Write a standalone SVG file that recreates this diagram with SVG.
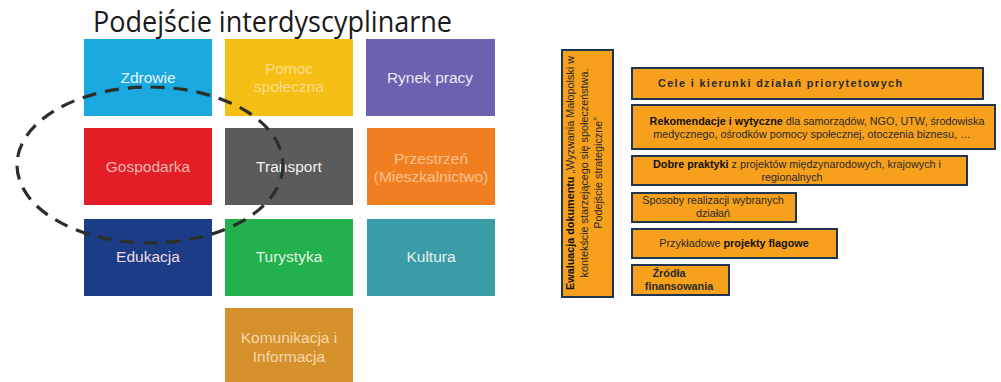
<svg xmlns="http://www.w3.org/2000/svg" width="1001" height="382" viewBox="0 0 1001 382">
<style>
.tile text{font-family:"Liberation Sans",Arial,sans-serif;font-size:15.5px;text-anchor:middle}
.ob rect{fill:#f6a01b;stroke:#1f3550;stroke-width:2}
.ob text{font-family:"Liberation Sans",Arial,sans-serif;font-size:10.8px;fill:#2a2a2a;text-anchor:middle}
.b{font-weight:bold;fill:#111}
</style>
<rect width="1001" height="382" fill="#ffffff"/>
<text x="93" y="32" font-family="Open Sans, Liberation Sans, sans-serif" font-size="29" fill="#1a1a1a" textLength="359" lengthAdjust="spacingAndGlyphs">Podejście interdyscyplinarne</text>

<g id="zdrowie" class="tile"><rect x="84" y="39" width="128" height="77" fill="#1ba8df"/><text x="148" y="83" fill="#e6f3fb">Zdrowie</text></g>
<g id="pomoc" class="tile"><rect x="225" y="39" width="128" height="77" fill="#f6bf16"/><text x="289" y="74" fill="#f8dd8a">Pomoc</text><text x="289" y="92" fill="#f8dd8a">społeczna</text></g>
<g id="rynek" class="tile"><rect x="366" y="39" width="129" height="77" fill="#6a62ae"/><text x="430" y="83" fill="#ece8f6">Rynek pracy</text></g>
<g id="gospodarka" class="tile"><rect x="84" y="128" width="128" height="77" fill="#e31e27"/><text x="148" y="172" fill="#f5b5b0">Gospodarka</text></g>
<g id="transport" class="tile"><rect x="225" y="128" width="128" height="77" fill="#5b5b5b"/><text x="289" y="172" fill="#f2f2f2">Transport</text></g>
<g id="przestrzen" class="tile"><rect x="367" y="128" width="128" height="77" fill="#f17f22"/><text x="431" y="164" fill="#fbc08c">Przestrzeń</text><text x="431" y="182" fill="#fbc08c">(Mieszkalnictwo)</text></g>
<g id="edukacja" class="tile"><rect x="84" y="219" width="128" height="77" fill="#1c3d85"/><text x="148" y="262" fill="#f1dce4">Edukacja</text></g>
<g id="turystyka" class="tile"><rect x="225" y="219" width="128" height="77" fill="#22b14c"/><text x="289" y="262" fill="#e4f4e0">Turystyka</text></g>
<g id="kultura" class="tile"><rect x="367" y="219" width="128" height="77" fill="#3a9ca6"/><text x="431" y="262" fill="#e6f2f2">Kultura</text></g>
<g id="komunikacja" class="tile"><rect x="225" y="308" width="128" height="74" fill="#d5912b"/><text x="289" y="343" fill="#f5d8ab">Komunikacja i</text><text x="289" y="362" fill="#f5d8ab">Informacja</text></g>

<g id="ellipse"><ellipse cx="150" cy="165" rx="133" ry="78" fill="none" stroke="#2b2f28" stroke-width="3.2" stroke-dasharray="14 9"/></g>

<g id="ewaluacja" class="ob"><rect x="562" y="50" width="51" height="247"/>
<text transform="translate(574,173) rotate(-90)"><tspan class="b">Ewaluacja dokumentu</tspan> „Wyzwania Małopolski w</text>
<text transform="translate(588,173) rotate(-90)">kontekście starzejącego się społeczeństwa.</text>
<text transform="translate(602,173) rotate(-90)">Podejście strategiczne”</text>
</g>

<g id="cele" class="ob"><rect x="632" y="68" width="351" height="31"/><text x="780" y="87" class="b" textLength="244" lengthAdjust="spacing">Cele i kierunki działań priorytetowych</text></g>
<g id="rekomendacje" class="ob"><rect x="632" y="105" width="363" height="44"/><text x="817" y="125"><tspan class="b">Rekomendacje i wytyczne</tspan> dla samorządów, NGO, UTW, środowiska</text><text x="812" y="138">medycznego, ośrodków pomocy społecznej, otoczenia biznesu, …</text></g>
<g id="dobre" class="ob"><rect x="632" y="156" width="335" height="29"/><text x="797" y="168"><tspan class="b">Dobre praktyki</tspan> z projektów międzynarodowych, krajowych i</text><text x="792" y="181">regionalnych</text></g>
<g id="sposoby" class="ob"><rect x="632" y="193" width="164" height="29"/><text x="713" y="204">Sposoby realizacji wybranych</text><text x="713" y="217">działań</text></g>
<g id="przykladowe" class="ob"><rect x="632" y="229" width="205" height="29"/><text x="734" y="247">Przykładowe <tspan class="b">projekty flagowe</tspan></text></g>
<g id="zrodla" class="ob"><rect x="632" y="265" width="97" height="30"/><text x="669" y="277" class="b">Źródła</text><text x="679" y="290" class="b">finansowania</text></g>
</svg>
